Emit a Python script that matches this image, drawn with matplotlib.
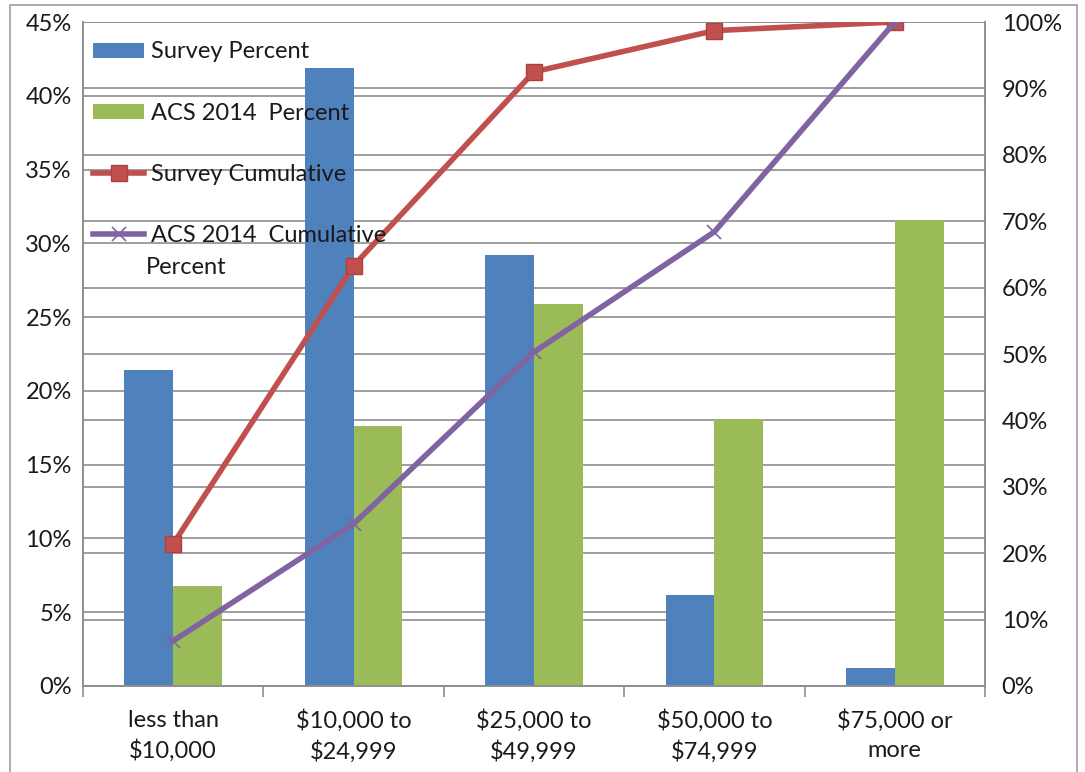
import numpy as np
import matplotlib
matplotlib.use("Agg")
import matplotlib.pyplot as plt
from matplotlib.patches import Patch, Rectangle
from matplotlib.lines import Line2D

# Household income distribution: survey vs ACS 2014
categories = ["less than\n$10,000", "$10,000 to\n$24,999", "$25,000 to\n$49,999",
              "$50,000 to\n$74,999", "$75,000 or\nmore"]
survey_pct = [21.4, 41.9, 29.2, 6.2, 1.2]
acs_pct = [6.8, 17.6, 25.9, 18.1, 31.6]
survey_cum = [21.4, 63.3, 92.5, 98.7, 100.0]
acs_cum = [6.8, 24.4, 50.3, 68.4, 100.0]

left_ticks = [0, 5, 10, 15, 20, 25, 30, 35, 40, 45]
right_ticks = [0, 10, 20, 30, 40, 50, 60, 70, 80, 90, 100]

BLUE = "#4F81BD"
GREEN = "#9BBB59"
RED = "#C0504D"
PURPLE = "#8064A2"
GRID = "#8E8E8E"
TXT = "#1a1a1a"

plt.rcParams["font.family"] = ["Lato", "DejaVu Sans"]
FS = 17

fig = plt.figure(figsize=(10.85, 7.72), dpi=100)
W, H = 1085, 772
ax = fig.add_axes([83 / W, 1 - 686 / H, (985 - 83) / W, (686 - 22) / H])
ax2 = ax.twinx()

x = np.arange(len(categories))
bw = 0.27
ax.bar(x - bw / 2, survey_pct, bw, color=BLUE, zorder=3)
ax.bar(x + bw / 2, acs_pct, bw, color=GREEN, zorder=3)

ax.set_ylim(0, 45)
ax.set_xlim(-0.5, len(categories) - 0.5)
ax2.set_ylim(0, 100)

# horizontal gridlines for both scales, drawn behind the bars
for v in left_ticks:
    ax.axhline(v, color=GRID, lw=1.2, zorder=1)
for v in right_ticks:
    ax.axhline(v * 45 / 100, color=GRID, lw=1.2, zorder=1)

LW = 4.0
ax2.plot(x, survey_cum, color=RED, lw=LW, marker="s", ms=11,
         mfc=RED, mec="#B0403D", zorder=4)
ax2.plot(x, acs_cum, color=PURPLE, lw=LW, marker="x", ms=10,
         mew=1.2, mec=PURPLE, zorder=4)

ax.set_yticks(left_ticks)
ax.set_yticklabels([f"{v}%" for v in left_ticks])
ax2.set_yticks(right_ticks)
ax2.set_yticklabels([f"{v}%" for v in right_ticks])

ax.set_xticks(np.arange(-0.5, len(categories), 1.0))
ax.set_xticklabels([])
ax.set_xticks(x, minor=True)
ax.set_xticklabels(categories, minor=True, fontsize=FS, color=TXT, linespacing=1.45)
ax.tick_params(axis="x", which="major", length=8, width=1.2, color=GRID, direction="out")
ax.tick_params(axis="x", which="minor", length=0, pad=17)
ax.tick_params(axis="y", length=0, labelsize=FS, labelcolor=TXT, pad=8)
ax2.tick_params(axis="y", length=0, labelsize=FS, labelcolor=TXT, pad=12)

for a in (ax, ax2):
    for s in a.spines.values():
        s.set_color(GRID)
        s.set_linewidth(1.2)
ax2.spines["top"].set_visible(False)
ax.spines["top"].set_visible(False)
ax2.patch.set_visible(False)

handles = [
    Patch(facecolor=BLUE, edgecolor="none"),
    Patch(facecolor=GREEN, edgecolor="none"),
    Line2D([], [], color=RED, lw=LW, marker="s", ms=11, mfc=RED, mec="#B0403D"),
    Line2D([], [], color=PURPLE, lw=LW, marker="x", ms=10, mew=1.2),
]
labels = ["Survey Percent", "ACS 2014  Percent", "Survey Cumulative", "ACS 2014  Cumulative"]
leg = ax2.legend(handles, labels, loc="upper left", bbox_to_anchor=(-0.01, 1.0),
                 frameon=False, fontsize=FS, handlelength=2.15, handleheight=0.6,
                 handletextpad=0.3, labelspacing=1.7, borderaxespad=0.0,
                 borderpad=0.82)
for t in leg.get_texts():
    t.set_color(TXT)
leg.set_zorder(5)
fig.text(146 / W, 1 - 268 / H, "Percent", fontsize=FS, color=TXT, va="center", ha="left")

# outer frame around the chart
fig.add_artist(Rectangle((10 / W, -0.01), (1077 - 10) / W, 1 - 5 / H + 0.01,
                         transform=fig.transFigure, fill=False, edgecolor="#A0A0A0",
                         lw=1.2))

fig.savefig("out.png", dpi=100)
